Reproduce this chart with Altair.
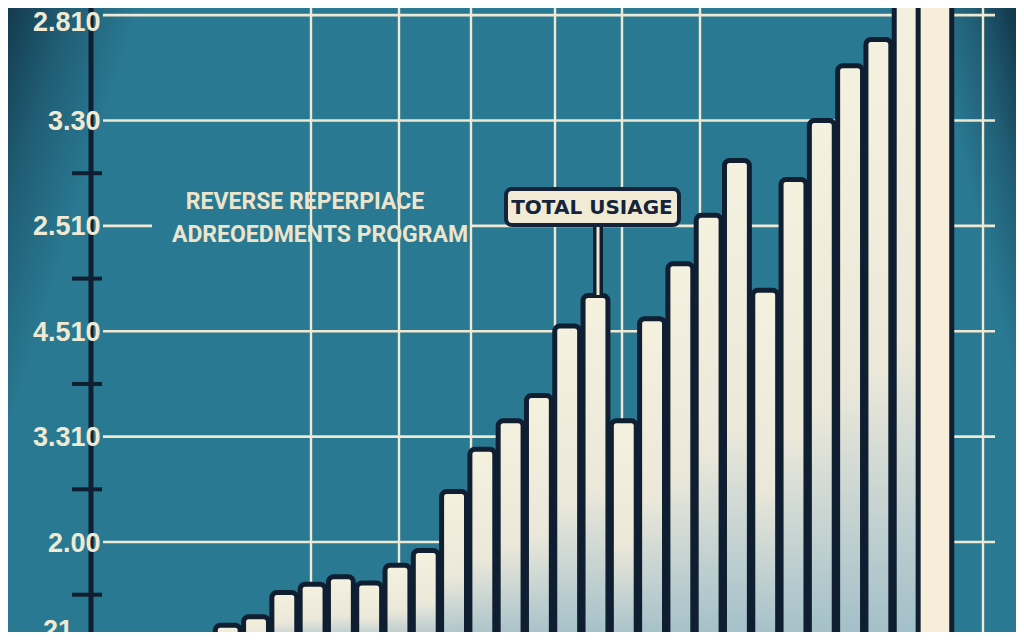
import altair as alt
import pandas as pd

# ---------------- data ----------------
bar_ids = [f"B{i:02d}" for i in range(1, 28)]
bar_values = [0.11, 0.21, 0.29, 0.52, 0.60, 0.67, 0.61, 0.78, 0.92, 1.48,
              1.88, 2.15, 2.39, 3.05, 3.34, 2.15, 3.12, 3.64, 4.10, 4.62,
              3.39, 4.44, 5.00, 5.52, 5.77, 6.40, 6.60]
highlight_id = "B27"

tick_values = [0, 1, 2, 3, 4, 5, 6]
tick_labels = ["21", "2.00", "3.310", "4.510", "2.510", "3.30", "2.810"]
minor_ticks = [0.5, 1.5, 2.5, 3.5, 4.5]
grid_values = [1, 2, 3, 4, 5, 6]

title_lines = ["REVERSE REPERPIACE", "ADREOEDMENTS PROGRAM"]
callout_text = "TOTAL USIAGE"

# ---------------- styles / layout ----------------
W, H = 909, 624
BG = "#2a7993"
CREAM = "#efe9d3"
NAVY = "#0f1e30"
VGRID_X = [220, 308, 380, 464, 531, 609, 892]
LABEL_FONT = "Liberation Sans"
TITLE_FONT = "Roboto"

bars = pd.DataFrame({"id": bar_ids, "v": bar_values})

label_expr = "[" + ",".join(f"'{t}'" for t in tick_labels) + "][datum.value]"
yscale = alt.Scale(domain=[0.146, 6.068], nice=False, zero=False)
yaxis = alt.Axis(
    values=tick_values[1:], labelExpr=label_expr, title=None,
    domain=False, ticks=False, tickSize=0, grid=False,
    labelPadding=-9, labelAlign="right", labelBaseline="middle",
    labelFont=LABEL_FONT, labelFontWeight="bold", labelFontSize=27,
    labelColor="#f1ead3",
    labelOffset={"condition": {"test": "datum.value == 6", "value": 7}, "value": 1},
    labelOverlap=False, labelBound=False, zindex=1,
)
xscale = alt.Scale(domain=bar_ids, range=[96, 856.4], paddingInner=0.12, paddingOuter=0)

one = pd.DataFrame({"a": [0]})


def vignette(x0, x1, y1, from_right):
    grad = alt.Gradient(
        gradient="linear",
        stops=[alt.GradientStop(color="rgba(10,32,48,0.75)", offset=0),
               alt.GradientStop(color="rgba(10,32,48,0.3)", offset=0.25),
               alt.GradientStop(color="rgba(10,32,48,0)", offset=0.5)],
        x1=1 if from_right else 0, y1=0, x2=0 if from_right else 1, y2=1,
    )
    return alt.Chart(one).mark_rect(fill=grad).encode(
        x=alt.value(x0), x2=alt.value(x1), y=alt.value(0), y2=alt.value(y1)
    )


vig_left = vignette(-91, 50, 460, False)
vig_right = vignette(835, 925, 380, True)

hgrid = alt.Chart(pd.DataFrame({"v": grid_values})).mark_rule(
    color=CREAM, strokeWidth=2.6
).encode(y=alt.Y("v:Q", scale=yscale, axis=yaxis), x=alt.value(12), x2=alt.value(904))

cover = alt.Chart(one).mark_rect(fill=BG).encode(
    x=alt.value(61), x2=alt.value(381), y=alt.value(214), y2=alt.value(229)
)

vgrid = alt.Chart(pd.DataFrame({"gx": VGRID_X})).mark_rule(
    color=CREAM, strokeWidth=2.4
).encode(x=alt.X("gx:Q", scale=None), y=alt.value(0), y2=alt.value(H))

axis_line = alt.Chart(one).mark_rule(color=NAVY, strokeWidth=5).encode(
    x=alt.value(0), y=alt.value(0), y2=alt.value(H)
)

minor = alt.Chart(pd.DataFrame({"v": minor_ticks})).mark_rule(
    color=NAVY, strokeWidth=4
).encode(y=alt.Y("v:Q", scale=yscale, axis=yaxis), x=alt.value(-19), x2=alt.value(11))

bottom_label = alt.Chart(pd.DataFrame({"t": [tick_labels[0]]})).mark_text(
    font=LABEL_FONT, fontWeight="bold", fontSize=27, color="#f1ead3",
    align="left", baseline="middle"
).encode(text="t:N", x=alt.value(-48), y=alt.value(623))

bar_grad = alt.Gradient(
    gradient="linear",
    stops=[alt.GradientStop(color="#f5f1df", offset=0),
           alt.GradientStop(color="#ebe8da", offset=0.55),
           alt.GradientStop(color="#9fbdc8", offset=1)],
    x1=0, x2=0, y1=0, y2=1,
)

bar_main = alt.Chart(bars).transform_filter(
    alt.datum.id != highlight_id
).mark_bar(
    fill=bar_grad, stroke=NAVY, strokeWidth=5,
    cornerRadiusTopLeft=5, cornerRadiusTopRight=5, clip=True,
).encode(
    x=alt.X("id:N", sort=None, scale=xscale, axis=None),
    y=alt.Y("v:Q", scale=yscale, axis=yaxis),
    y2=alt.datum(0),
)

bar_last = alt.Chart(bars).transform_filter(
    alt.datum.id == highlight_id
).mark_bar(
    fill="#f6eedb", stroke=NAVY, strokeWidth=5, width=alt.RelativeBandSize(1.35),
    cornerRadiusTopLeft=5, cornerRadiusTopRight=5, clip=True,
).encode(
    x=alt.X("id:N", sort=None, scale=xscale, axis=None),
    y=alt.Y("v:Q", scale=yscale, axis=yaxis),
    y2=alt.datum(0),
)

title1 = alt.Chart(pd.DataFrame({"t": [title_lines[0]]})).mark_text(
    font=TITLE_FONT, fontWeight="bold", fontSize=23, color="#ece5cd",
    align="center", baseline="middle"
).encode(text="t:N", x=alt.value(214), y=alt.value(194))

title2 = alt.Chart(pd.DataFrame({"t": [title_lines[1]]})).mark_text(
    font=TITLE_FONT, fontWeight="bold", fontSize=23, color="#ece5cd",
    align="center", baseline="middle"
).encode(text="t:N", x=alt.value(229), y=alt.value(227))

stem_dark = alt.Chart(one).mark_rule(color=NAVY, strokeWidth=10).encode(
    x=alt.value(507), y=alt.value(215), y2=alt.value(290)
)
stem_light = alt.Chart(one).mark_rule(color=CREAM, strokeWidth=3).encode(
    x=alt.value(507), y=alt.value(219), y2=alt.value(287)
)

box = alt.Chart(one).mark_rect(
    fill="#f1ebd6", stroke="#14233a", strokeWidth=4, cornerRadius=6
).encode(x=alt.value(415), x2=alt.value(588), y=alt.value(181), y2=alt.value(217))

box_text = alt.Chart(pd.DataFrame({"t": [callout_text]})).mark_text(
    font="DejaVu Sans", fontWeight="bold", fontSize=20, color="#15243a",
    align="center", baseline="middle"
).encode(text="t:N", x=alt.value(501), y=alt.value(200))

chart = alt.layer(
    vig_left, vig_right, hgrid, cover, vgrid, axis_line, minor, bottom_label,
    bar_main, bar_last, title1, title2, stem_dark, stem_light, box, box_text
).properties(
    width=W, height=H,
    autosize=alt.AutoSizeParams(type="none"),
    padding={"left": 83, "right": 16, "top": 0, "bottom": 0},
    background=BG,
).configure_view(stroke=None, fill=BG)

chart.save("out.html", embed_options={"renderer": "svg", "actions": False})
